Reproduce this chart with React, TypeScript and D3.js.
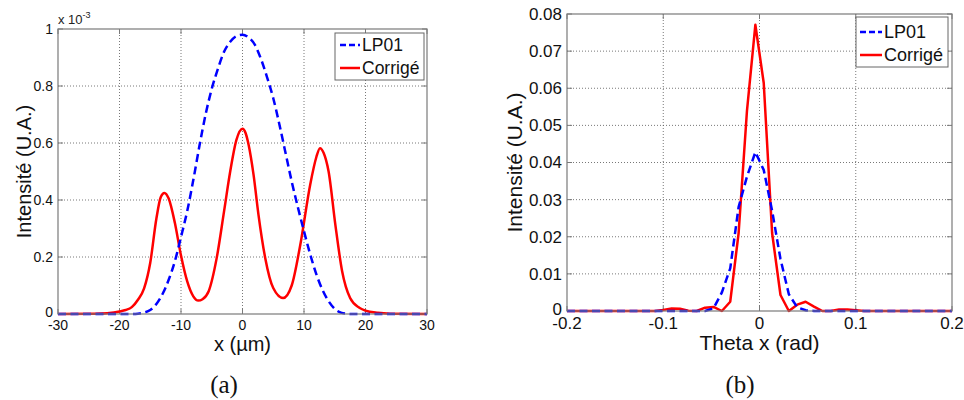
import React from "react";
import * as d3 from "d3";

// ---------- Panel (a): x (µm) vs intensity (units of 1e-3) ----------
const aLp01X = [-30, -18, -17, -16, -15, -14, -13, -12, -11, -10, -9, -8, -7, -6, -5, -4, -3, -2, -1, 0, 1, 2, 3, 4, 5, 6, 7, 8, 9, 10, 11, 12, 13, 14, 15, 16, 17, 18, 30];
const aLp01Y = [0, 0, 0.001, 0.005, 0.014, 0.035, 0.07, 0.12, 0.185, 0.27, 0.36, 0.47, 0.59, 0.70, 0.79, 0.86, 0.92, 0.955, 0.975, 0.98, 0.97, 0.945, 0.895, 0.83, 0.757, 0.665, 0.565, 0.465, 0.375, 0.29, 0.21, 0.14, 0.085, 0.045, 0.018, 0.005, 0.001, 0, 0];

const aCorrX = [-30, -24, -22, -20, -19, -18, -17, -16, -15, -14, -13.3, -12.7, -12, -11, -10, -9, -8, -7.2, -6.5, -5.5, -4.2, -3, -2, -1, 0, 0.5, 1, 1.8, 2.6, 3.7, 5, 6.6, 8, 9.4, 11, 12, 12.6, 13.2, 14, 15.1, 16.2, 17.5, 19, 20, 22, 24, 30];
const aCorrY = [0, 0.001, 0.003, 0.009, 0.014, 0.024, 0.05, 0.09, 0.18, 0.335, 0.41, 0.425, 0.405, 0.32, 0.205, 0.115, 0.062, 0.047, 0.052, 0.08, 0.196, 0.36, 0.50, 0.61, 0.65, 0.635, 0.593, 0.488, 0.348, 0.196, 0.091, 0.056, 0.10, 0.243, 0.453, 0.55, 0.582, 0.565, 0.50, 0.313, 0.15, 0.056, 0.022, 0.012, 0.004, 0.001, 0];

const aXTicks = [-30, -20, -10, 0, 10, 20, 30];
const aYTicks = [0, 0.2, 0.4, 0.6, 0.8, 1];

// ---------- Panel (b): Theta x (rad) vs intensity ----------
const bLp01X = [-0.2, -0.0565, -0.0478, -0.0391, -0.0304, -0.0217, -0.013, -0.0043, 0.0044, 0.0131, 0.0218, 0.0305, 0.0392, 0.0479, 0.0566, 0.2];
const bLp01Y = [0, 0, 0.0007, 0.005, 0.0115, 0.028, 0.0362, 0.0428, 0.038, 0.027, 0.014, 0.0045, 0.001, 0.0002, 0, 0];

const bCorrX = [-0.2, -0.1087, -0.1, -0.0913, -0.0826, -0.0739, -0.0652, -0.0565, -0.0478, -0.0391, -0.0304, -0.0217, -0.013, -0.0043, 0.0044, 0.0131, 0.0218, 0.0305, 0.0392, 0.0479, 0.0566, 0.0653, 0.074, 0.0827, 0.0914, 0.1001, 0.1088, 0.2];
const bCorrY = [0, 0, 0.0003, 0.0007, 0.0006, 0.0001, 0, 0.0009, 0.0011, 0, 0.0025, 0.021, 0.054, 0.0771, 0.0614, 0.021, 0.0043, 0, 0.0017, 0.0025, 0.0012, 0, 0, 0.0004, 0.0004, 0.0002, 0, 0];

const bXTicks = [-0.2, -0.1, 0, 0.1, 0.2];
const bYTicks = [0, 0.01, 0.02, 0.03, 0.04, 0.05, 0.06, 0.07, 0.08];

const seriesNames = ["LP01", "Corrigé"];

const SANS = "Arial, 'Liberation Sans', Helvetica, sans-serif";

type PanelProps = {
  left: number; right: number; top: number; bottom: number;
  xDomain: [number, number]; yDomain: [number, number];
  xTicks: number[]; yTicks: number[];
  xFmt: (v: number) => string; yFmt: (v: number) => string;
  lp01: [number[], number[]]; corr: [number[], number[]];
  curve: d3.CurveFactory;
  tickFont: number; labelFont: number; legendFont: number;
  xLabel: string; yLabelX: number; xLabelY: number;
  legend: { x0: number; x1: number; y0: number; y1: number; row1: number; row2: number; lx0: number; lx1: number; tx: number };
  caption: string; captionX: number;
  exponent?: boolean;
};

function Panel(p: PanelProps) {
  const x = d3.scaleLinear().domain(p.xDomain).range([p.left, p.right]);
  const y = d3.scaleLinear().domain(p.yDomain).range([p.bottom, p.top]);
  const line = d3.line<[number, number]>().x(d => x(d[0])).y(d => y(d[1])).curve(p.curve);
  const zip = (a: number[], b: number[]) => a.map((v, i) => [v, b[i]] as [number, number]);
  const lp = line(zip(p.lp01[0], p.lp01[1])) || "";
  const co = line(zip(p.corr[0], p.corr[1])) || "";
  const tk = 5;
  const axisColor = "#7a7a7a";
  const gridColor = "#555";
  const midY = (p.top + p.bottom) / 2;
  const midX = (p.left + p.right) / 2;
  const L = p.legend;
  return (
    <g>
      <rect x={p.left} y={p.top} width={p.right - p.left} height={p.bottom - p.top} fill="#fff" />
      {p.xTicks.slice(1, -1).map(t => (
        <line key={"gx" + t} x1={x(t)} x2={x(t)} y1={p.top} y2={p.bottom} stroke={gridColor} strokeWidth={0.8} strokeDasharray="1,2" />
      ))}
      {p.yTicks.slice(1, -1).map(t => (
        <line key={"gy" + t} x1={p.left} x2={p.right} y1={y(t)} y2={y(t)} stroke={gridColor} strokeWidth={0.8} strokeDasharray="1,2" />
      ))}
      {p.xTicks.map(t => (
        <g key={"tx" + t}>
          <line x1={x(t)} x2={x(t)} y1={p.bottom} y2={p.bottom - tk} stroke={axisColor} />
          <line x1={x(t)} x2={x(t)} y1={p.top} y2={p.top + tk} stroke={axisColor} />
          <text x={x(t)} y={p.bottom + 6} dy="0.71em" textAnchor="middle" fontSize={p.tickFont} fontFamily={SANS} fill="#111">{p.xFmt(t)}</text>
        </g>
      ))}
      {p.yTicks.map(t => (
        <g key={"ty" + t}>
          <line x1={p.left} x2={p.left + tk} y1={y(t)} y2={y(t)} stroke={axisColor} />
          <line x1={p.right} x2={p.right - tk} y1={y(t)} y2={y(t)} stroke={axisColor} />
          <text x={p.left - 5} y={y(t) - (t === 0 ? 2 : 0)} dy="0.35em" textAnchor="end" fontSize={p.tickFont} fontFamily={SANS} fill="#111">{p.yFmt(t)}</text>
        </g>
      ))}
      <path d={co} fill="none" stroke="#ff0000" strokeWidth={2.5} strokeLinejoin="round" />
      <path d={lp} fill="none" stroke="#0000ff" strokeWidth={2.5} strokeDasharray="8,4.5" />
      <rect x={p.left} y={p.top} width={p.right - p.left} height={p.bottom - p.top} fill="none" stroke={axisColor} strokeWidth={1.2} />
      {p.exponent && (
        <text x={p.left} y={p.top - 5} fontSize={13} fontFamily={SANS} fill="#222">
          x 10<tspan dy={-6} fontSize={9}>-3</tspan>
        </text>
      )}
      <rect x={L.x0} y={L.y0} width={L.x1 - L.x0} height={L.y1 - L.y0} fill="#fff" stroke="#666" strokeWidth={1} />
      <line x1={L.lx0} x2={L.lx1} y1={L.row1} y2={L.row1} stroke="#0000ff" strokeWidth={2.5} strokeDasharray="6,3" />
      <text x={L.tx} y={L.row1} dy="0.35em" fontSize={p.legendFont} fontFamily={SANS} fill="#111">{seriesNames[0]}</text>
      <line x1={L.lx0} x2={L.lx1} y1={L.row2} y2={L.row2} stroke="#ff0000" strokeWidth={2.5} />
      <text x={L.tx} y={L.row2} dy="0.35em" fontSize={p.legendFont} fontFamily={SANS} fill="#111">{seriesNames[1]}</text>
      <text x={midX} y={p.xLabelY} dy="0.35em" textAnchor="middle" fontSize={p.labelFont} fontFamily={SANS} fill="#111">{p.xLabel}</text>
      <text transform={`translate(${p.yLabelX},${midY}) rotate(-90)`} dy="0.35em" textAnchor="middle" fontSize={p.labelFont} fontFamily={SANS} fill="#111">Intensité (U.A.)</text>
      <text x={p.captionX} y={384} dy="0.35em" textAnchor="middle" fontSize={25} fontFamily="'Liberation Serif', 'Times New Roman', serif" fill="#111">{p.caption}</text>
    </g>
  );
}

export default function App() {
  return (
    <svg width={964} height={400} style={{ position: "absolute", left: 0, top: 0, background: "#fff" }}>
      <rect width={964} height={400} fill="#fff" />
      <Panel
        left={58} right={427} top={29} bottom={314}
        xDomain={[-30, 30]} yDomain={[0, 1]}
        xTicks={aXTicks} yTicks={aYTicks}
        xFmt={v => String(v)} yFmt={v => String(+v.toFixed(1))}
        lp01={[aLp01X, aLp01Y]} corr={[aCorrX, aCorrY]}
        curve={d3.curveMonotoneX}
        tickFont={14} labelFont={20} legendFont={17.5}
        xLabel="x (µm)" yLabelX={24} xLabelY={344}
        legend={{ x0: 335, x1: 424, y0: 33, y1: 80, row1: 45, row2: 68, lx0: 340, lx1: 360, tx: 362 }}
        caption="(a)" captionX={224}
        exponent
      />
      <Panel
        left={567} right={952} top={14} bottom={311}
        xDomain={[-0.2, 0.2]} yDomain={[0, 0.08]}
        xTicks={bXTicks} yTicks={bYTicks}
        xFmt={v => String(+v.toFixed(1))} yFmt={v => String(+v.toFixed(2))}
        lp01={[bLp01X, bLp01Y]} corr={[bCorrX, bCorrY]}
        curve={d3.curveLinear}
        tickFont={17} labelFont={21} legendFont={18}
        xLabel="Theta x (rad)" yLabelX={515} xLabelY={343}
        legend={{ x0: 856, x1: 948, y0: 17, y1: 67, row1: 32, row2: 55, lx0: 860, lx1: 882, tx: 884 }}
        caption="(b)" captionX={740}
      />
    </svg>
  );
}
